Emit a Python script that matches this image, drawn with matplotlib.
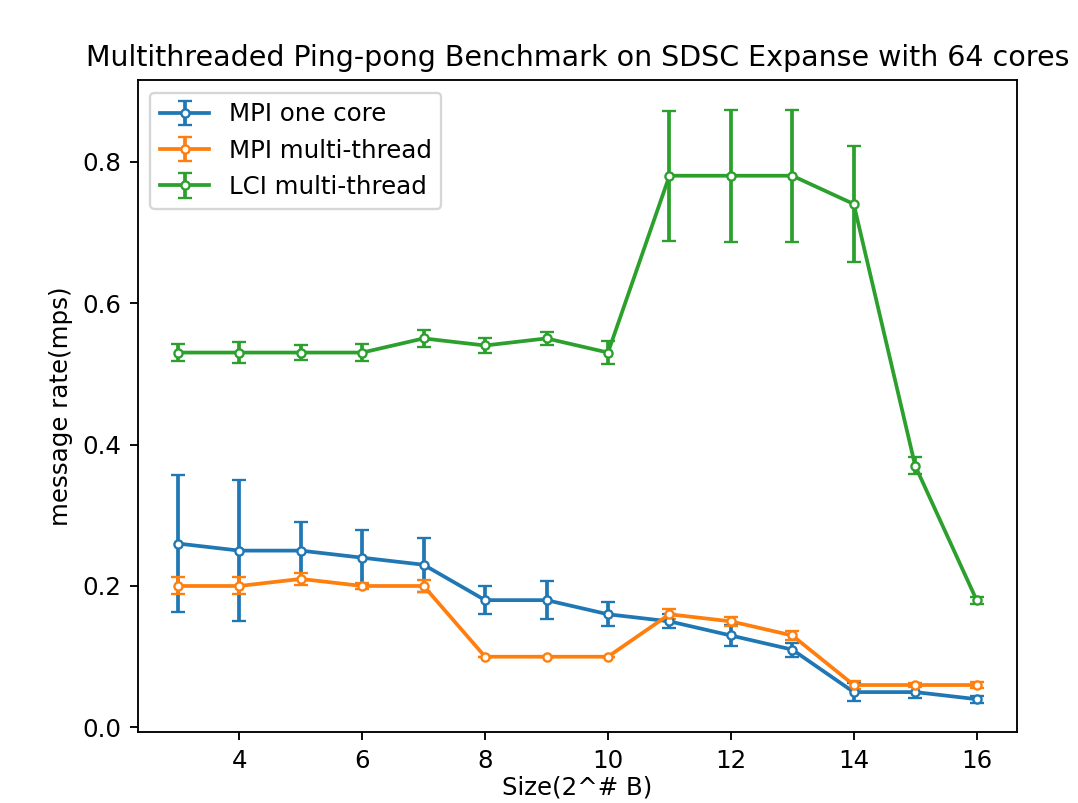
import matplotlib
matplotlib.use("Agg")
import matplotlib.pyplot as plt
import numpy as np

sizes = np.arange(3, 17)

mpi_one_core = [0.26, 0.25, 0.25, 0.24, 0.23, 0.18, 0.18, 0.16, 0.15, 0.13, 0.11, 0.05, 0.05, 0.04]
mpi_one_core_err = [0.097, 0.10, 0.041, 0.039, 0.038, 0.02, 0.027, 0.017, 0.01, 0.015, 0.01, 0.013, 0.008, 0.005]

mpi_multi = [0.20, 0.20, 0.21, 0.20, 0.20, 0.10, 0.10, 0.10, 0.16, 0.15, 0.13, 0.06, 0.06, 0.06]
mpi_multi_err = [0.012, 0.012, 0.008, 0.004, 0.008, 0.0, 0.0, 0.0, 0.007, 0.006, 0.006, 0.005, 0.003, 0.004]

lci_multi = [0.53, 0.53, 0.53, 0.53, 0.55, 0.54, 0.55, 0.53, 0.78, 0.78, 0.78, 0.74, 0.37, 0.18]
lci_multi_err = [0.012, 0.015, 0.01, 0.012, 0.012, 0.011, 0.009, 0.016, 0.092, 0.093, 0.093, 0.082, 0.012, 0.005]

dpi = 168
fig = plt.figure(figsize=(1078 / dpi, 803 / dpi), dpi=dpi)
ax = fig.add_axes([0.128, 0.088, 0.815, 0.812])

style = dict(marker='o', markersize=3.5, markerfacecolor='white', capsize=3, linewidth=1.6)
ax.errorbar(sizes, mpi_one_core, yerr=mpi_one_core_err, label='MPI one core', **style)
ax.errorbar(sizes, mpi_multi, yerr=mpi_multi_err, label='MPI multi-thread', **style)
ax.errorbar(sizes, lci_multi, yerr=lci_multi_err, label='LCI multi-thread', **style)

# slightly smaller than the reference so the title fits inside the frame
ax.set_title('Multithreaded Ping-pong Benchmark on SDSC Expanse with 64 cores', fontsize=12.2)
ax.set_xlabel('Size(2^# B)', fontsize=10.5, labelpad=1)
ax.set_ylabel('message rate(mps)', fontsize=10.5)
ax.tick_params(labelsize=10.5)
ax.legend(loc='upper left', fontsize=10.5)

fig.savefig('out.png', dpi=dpi)
